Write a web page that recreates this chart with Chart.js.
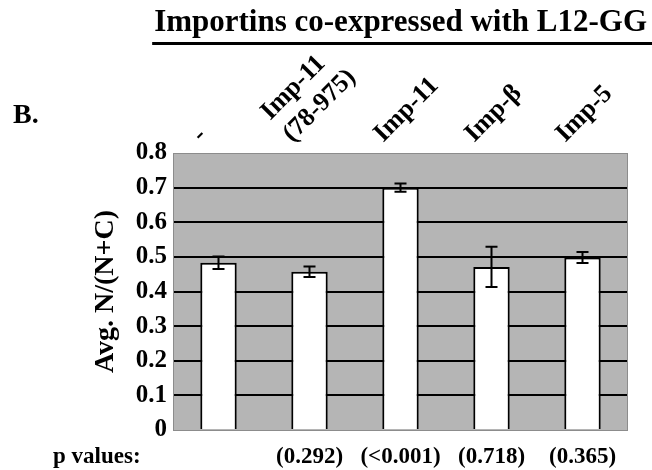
<!DOCTYPE html>
<html>
<head>
<meta charset="utf-8">
<script src="https://cdn.jsdelivr.net/npm/chart.js@4.4.1/dist/chart.umd.min.js"></script>
<style>
  html, body { margin: 0; padding: 0; background: #fff; }
  #wrap { width: 652px; height: 470px; }
</style>
</head>
<body>
<div id="wrap"><canvas id="chart"></canvas></div>
<script>
// values
const categories = ['-', ['Imp-11', '(78-975)'], 'Imp-11', 'Imp-β', 'Imp-5']
const means      = [0.483, 0.457, 0.700, 0.471, 0.498]
const errors     = [0.018, 0.015, 0.012, 0.058, 0.016]
const pValues    = ['', '(0.292)', '(<0.001)', '(0.718)', '(0.365)']

const SERIF = '"Liberation Serif", "Times New Roman", serif'
const PLOT_BG = '#b5b5b5'

// gray plot background + frame, error bars, loose text
const decor = {
  id: 'decor',
  beforeDraw(chart) {
    const { ctx, chartArea: a } = chart
    ctx.save()
    ctx.fillStyle = PLOT_BG
    ctx.fillRect(a.left, a.top, a.right - a.left, a.bottom - a.top)
    ctx.restore()
  },
  afterDatasetsDraw(chart) {
    const { ctx, chartArea: a, scales } = chart
    const y = scales.y
    ctx.save()
    // frame
    ctx.strokeStyle = '#8c8c8c'
    ctx.lineWidth = 1
    ctx.strokeRect(a.left + 0.5, a.top + 0.5, a.right - a.left - 1, a.bottom - a.top)

    // error bars
    ctx.strokeStyle = '#000'
    ctx.lineWidth = 2
    chart.getDatasetMeta(0).data.forEach((bar, i) => {
      const hi = y.getPixelForValue(means[i] + errors[i])
      const lo = y.getPixelForValue(means[i] - errors[i])
      ctx.beginPath()
      ctx.moveTo(bar.x, hi); ctx.lineTo(bar.x, lo)
      ctx.moveTo(bar.x - 6, hi); ctx.lineTo(bar.x + 6, hi)
      ctx.moveTo(bar.x - 6, lo); ctx.lineTo(bar.x + 6, lo)
      ctx.stroke()
    })
    ctx.restore()
  },
  afterDraw(chart) {
    const { ctx, scales } = chart
    ctx.save()
    ctx.fillStyle = '#000'

    // underlined heading
    ctx.font = `bold 31px ${SERIF}`
    ctx.textAlign = 'right'
    ctx.textBaseline = 'alphabetic'
    const heading = 'Importins co-expressed with L12-GG'
    const w = ctx.measureText(heading).width
    ctx.fillText(heading, 647, 31)
    ctx.fillRect(647 - w - 2, 42, w + 7, 3)

    // panel letter
    ctx.font = `bold 28px ${SERIF}`
    ctx.textAlign = 'left'
    ctx.fillText('B.', 13, 123)

    // row label for the p values axis
    ctx.font = `bold 23px ${SERIF}`
    ctx.textBaseline = 'middle'
    ctx.fillText('p values:', 53, scales.x2.top + 13 + 23 * 1.2 / 2)
    ctx.restore()
  },
}

new Chart(document.getElementById('chart'), {
  type: 'bar',
  data: {
    labels: categories,
    datasets: [{
      data: means,
      xAxisID: 'x',
      backgroundColor: '#fff',
      borderColor: '#000',
      borderWidth: 2,
      borderSkipped: 'bottom',
      categoryPercentage: 0.8,
      barPercentage: 0.5,
    }],
  },
  options: {
    responsive: true,
    maintainAspectRatio: false,
    animation: false,
    layout: { padding: { top: 55, right: 24, left: 0, bottom: 0 } },
    plugins: {
      legend: { display: false },
      tooltip: { enabled: false },
    },
    scales: {
      x: {
        position: 'top',
        grid: { display: false, drawTicks: false },
        border: { display: false },
        ticks: {
          color: '#000',
          font: { family: SERIF, size: 26, weight: 'bold' },
          minRotation: 45,
          maxRotation: 45,
          autoSkip: false,
          padding: 4,
        },
        afterFit: s => { s.height = 98; s.paddingLeft = 0; s.paddingRight = 0 },
      },
      x2: {
        type: 'category',
        labels: pValues,
        position: 'bottom',
        offset: true,
        grid: { display: false, drawTicks: false },
        border: { display: false },
        ticks: {
          color: '#000',
          font: { family: SERIF, size: 23, weight: 'bold' },
          maxRotation: 0,
          autoSkip: false,
          padding: 13,
        },
        afterFit: s => { s.height = 40; s.paddingLeft = 0; s.paddingRight = 0 },
      },
      y: {
        min: 0,
        max: 0.8,
        title: {
          display: true,
          text: 'Avg. N/(N+C)',
          color: '#000',
          font: { family: SERIF, size: 28, weight: 'bold' },
          padding: { top: 89, bottom: 0 },
        },
        grid: {
          drawTicks: false,
          lineWidth: 2,
          color: c => (c.tick && c.tick.value > 0.001 && c.tick.value < 0.799) ? '#000' : 'rgba(0,0,0,0)',
        },
        border: { display: false },
        ticks: {
          stepSize: 0.1,
          color: '#000',
          padding: 6,
          font: { family: SERIF, size: 25, weight: 'bold' },
          callback: v => String(+v.toFixed(1)),
        },
        afterFit: s => { s.width = 173; s.paddingTop = 0; s.paddingBottom = 0 },
      },
    },
  },
  plugins: [decor],
})
</script>
</body>
</html>
